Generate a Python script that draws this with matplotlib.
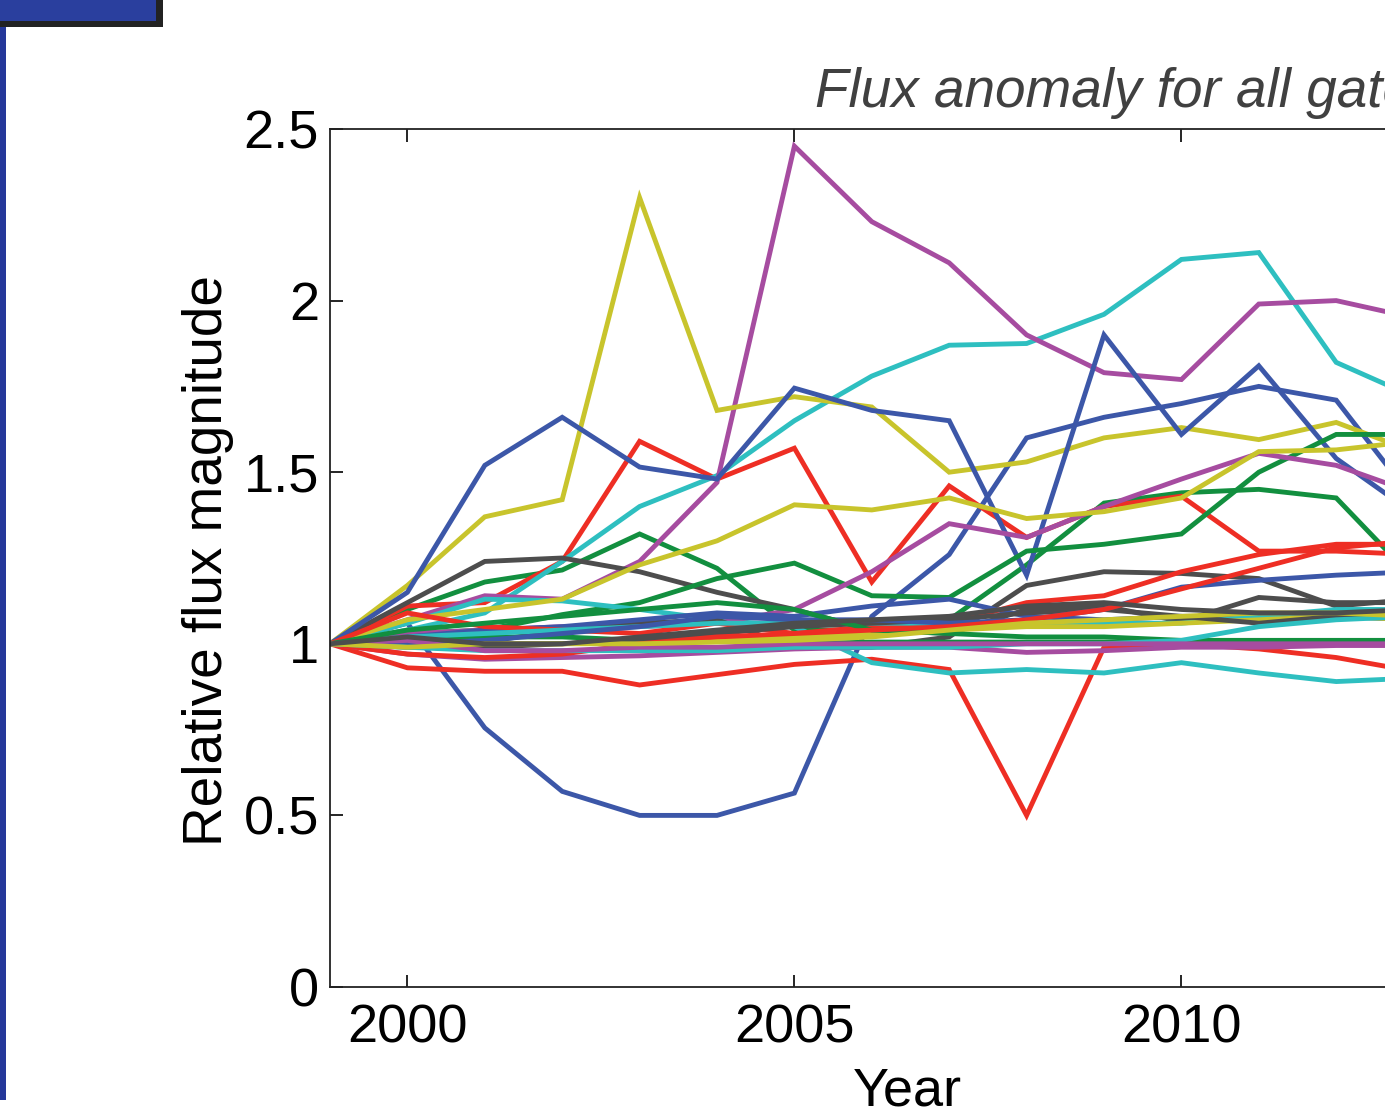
import matplotlib
matplotlib.use('Agg')
import matplotlib.pyplot as plt
from matplotlib.patches import Rectangle

plt.rcParams['font.family'] = ['Liberation Sans', 'DejaVu Sans']

years = list(range(1999, 2014))

# relative flux per gate, 1999 .. 2013
blue1 = [1, 1.06, 0.755, 0.57, 0.50, 0.50, 0.565, 1.08, 1.26, 1.60, 1.66, 1.70, 1.75, 1.71, 1.42]
green1 = [1, 1.10, 1.18, 1.215, 1.32, 1.22, 1.04, 1.04, 1.07, 1.23, 1.41, 1.44, 1.45, 1.425, 1.19]
red1 = [1, 1.11, 1.12, 1.24, 1.59, 1.48, 1.57, 1.18, 1.46, 1.31, 1.40, 1.43, 1.27, 1.27, 1.26]
cyan1 = [1, 1.04, 1.09, 1.24, 1.40, 1.49, 1.65, 1.78, 1.87, 1.875, 1.96, 2.12, 2.14, 1.82, 1.72]
magenta1 = [1, 1.07, 1.14, 1.13, 1.24, 1.47, 2.45, 2.23, 2.11, 1.90, 1.79, 1.77, 1.99, 2.00, 1.95]
yellow1 = [1, 1.17, 1.37, 1.42, 2.30, 1.68, 1.72, 1.69, 1.50, 1.53, 1.60, 1.63, 1.595, 1.645, 1.56]
gray1 = [1, 1.12, 1.24, 1.25, 1.21, 1.15, 1.10, 1.04, 1.03, 1.10, 1.11, 1.065, 1.135, 1.12, 1.12]

blue2 = [1, 1.15, 1.52, 1.66, 1.515, 1.48, 1.745, 1.68, 1.65, 1.20, 1.90, 1.61, 1.81, 1.54, 1.38]
green2 = [1, 1.03, 1.04, 1.085, 1.12, 1.19, 1.235, 1.14, 1.135, 1.27, 1.29, 1.32, 1.50, 1.61, 1.61]
red2 = [1, 0.93, 0.92, 0.92, 0.88, 0.91, 0.94, 0.955, 0.925, 0.50, 0.99, 1.00, 0.985, 0.96, 0.92]
cyan2 = [1, 1.06, 1.13, 1.125, 1.10, 1.07, 1.05, 0.945, 0.915, 0.925, 0.915, 0.945, 0.915, 0.89, 0.90]
magenta2 = [1, 1.03, 1.04, 1.05, 1.05, 1.06, 1.10, 1.21, 1.35, 1.31, 1.40, 1.48, 1.555, 1.52, 1.44]
yellow2 = [1, 1.07, 1.10, 1.13, 1.23, 1.30, 1.405, 1.39, 1.425, 1.365, 1.385, 1.425, 1.56, 1.565, 1.59]
gray2 = [1, 1.00, 1.005, 1.04, 1.06, 1.07, 0.99, 0.99, 1.02, 1.17, 1.21, 1.205, 1.19, 1.11, 1.13]

blue3 = [1, 1.02, 1.04, 1.05, 1.07, 1.09, 1.08, 1.11, 1.13, 1.08, 1.07, 1.08, 1.08, 1.08, 1.07]
green3 = [1, 1.01, 1.02, 1.02, 1.01, 1.01, 1.00, 1.005, 1.005, 1.005, 1.005, 1.005, 1.005, 1.005, 1.005]
red3 = [1, 1.09, 1.05, 1.04, 1.03, 1.06, 1.03, 1.05, 1.06, 1.12, 1.14, 1.21, 1.26, 1.29, 1.29]
cyan3 = [1, 1.02, 1.03, 1.04, 1.05, 1.06, 1.06, 1.06, 1.06, 1.06, 1.06, 1.06, 1.08, 1.10, 1.10]
magenta3 = [1, 0.97, 0.955, 0.96, 0.965, 0.975, 0.985, 0.99, 0.99, 0.975, 0.98, 0.99, 0.99, 0.995, 0.995]
yellow3 = [1, 1.00, 1.00, 1.00, 1.01, 1.01, 1.02, 1.03, 1.04, 1.05, 1.05, 1.06, 1.07, 1.08, 1.07]
gray3 = [1, 0.99, 0.99, 1.00, 1.01, 1.03, 1.05, 1.06, 1.07, 1.09, 1.10, 1.08, 1.06, 1.08, 1.09]

blue4 = [1, 1.00, 1.01, 1.03, 1.05, 1.08, 1.07, 1.07, 1.06, 1.07, 1.10, 1.165, 1.185, 1.20, 1.21]
green4 = [1, 1.04, 1.06, 1.08, 1.10, 1.12, 1.10, 1.04, 1.03, 1.02, 1.02, 1.01, 1.01, 1.01, 1.01]
red4 = [1, 0.97, 0.96, 0.97, 1.00, 1.02, 1.03, 1.04, 1.05, 1.07, 1.10, 1.16, 1.22, 1.28, 1.30]
cyan4 = [1, 0.99, 0.98, 0.98, 0.98, 0.98, 0.99, 0.99, 0.99, 1.00, 1.00, 1.01, 1.05, 1.07, 1.08]
magenta4 = [1, 1.01, 0.98, 0.98, 0.99, 0.99, 1.00, 1.00, 1.00, 1.00, 1.00, 1.00, 1.00, 1.00, 1.00]
yellow4 = [1, 0.99, 1.00, 1.00, 1.00, 1.005, 1.01, 1.02, 1.04, 1.06, 1.07, 1.08, 1.09, 1.09, 1.08]
gray4 = [1, 1.02, 1.00, 1.00, 1.02, 1.04, 1.06, 1.07, 1.08, 1.11, 1.12, 1.10, 1.09, 1.09, 1.10]

series = [blue1, green1, red1, cyan1, magenta1, yellow1, gray1,
          blue2, green2, red2, cyan2, magenta2, yellow2, gray2,
          blue3, green3, red3, cyan3, magenta3, yellow3, gray3,
          blue4, green4, red4, cyan4, magenta4, yellow4, gray4]
colors = ['#3c57a8', '#128f3f', '#ee2e24', '#2ebfc0', '#a64ca0', '#c8c42c', '#4d4d4d']

yticks = [0, 0.5, 1, 1.5, 2, 2.5]
ytick_labels = ['0', '0.5', '1', '1.5', '2', '2.5']
xticks = [2000, 2005, 2010]

fig = plt.figure(figsize=(13.85, 11.07), dpi=100)
fig.patch.set_facecolor('white')

# slide decoration on the left
fig.patches.append(Rectangle((0, 0.0063), 6 / 1385, 0.9756 - 0.0063, transform=fig.transFigure,
                             facecolor='#25389a', edgecolor='none'))
fig.patches.append(Rectangle((0, 1 - 27 / 1107), 163 / 1385, 27 / 1107, transform=fig.transFigure,
                             facecolor='#222222', edgecolor='none'))
fig.patches.append(Rectangle((0, 1 - 21 / 1107), 156 / 1385, 21 / 1107, transform=fig.transFigure,
                             facecolor='#2a3f9e', edgecolor='none'))

ax = fig.add_axes([330 / 1385, 1 - 987 / 1107, 1161 / 1385, 858 / 1107])
for i, s in enumerate(series):
    ax.plot(years, s, color=colors[i % 7], lw=3.5, solid_joinstyle='miter')

ax.set_xlim(1999, 2014)
ax.set_ylim(0, 2.5)
ax.set_xticks(xticks)
ax.set_xticklabels([str(x) for x in xticks])
ax.set_yticks(yticks)
ax.set_yticklabels(ytick_labels)
ax.tick_params(direction='in', length=9, width=1.2, labelsize=39, top=True, right=True)
ax.tick_params(axis='x', pad=12)
ax.tick_params(axis='y', pad=8)
for sp in ax.spines.values():
    sp.set_linewidth(1.3)
    sp.set_color('#222222')

fig.text(208 / 1385, 1 - 560 / 1107, 'Relative flux magnitude', rotation=90,
         ha='center', va='center', fontsize=39.5)
fig.text(907 / 1385, 1 - 1066 / 1107, 'Year', ha='center', va='top', fontsize=39)
fig.text(815 / 1385, 1 - 107 / 1107, 'Flux anomaly for all gates', ha='left', va='baseline',
         fontsize=39.5, style='italic', color='#404040')

fig.savefig('out.png', dpi=100)
